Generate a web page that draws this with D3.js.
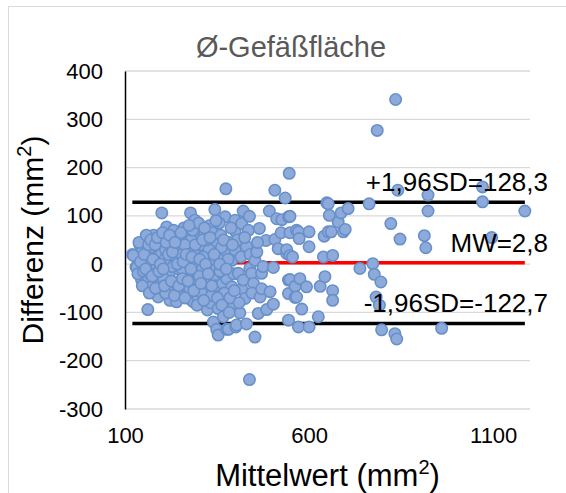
<!DOCTYPE html>
<html>
<head>
<meta charset="utf-8">
<script src="https://cdn.jsdelivr.net/npm/d3@7"></script>
<style>
  body { margin: 0; background: #fff; }
  svg { display: block; font-family: "Liberation Sans", Arial, sans-serif; }
</style>
</head>
<body>
<div id="app"></div>
<script>
// Mittelwert (mm²) of each pair
const mittelwert = [
  120, 123, 130, 132, 145, 140, 148, 150, 135, 150,
  154, 160, 163, 162, 172, 165, 170, 175, 180, 185, 190, 195, 190, 178, 185, 198, 200, 160, 168,
  200, 213, 205, 210, 215, 220, 222, 225, 230, 235, 240, 238, 245, 248, 205, 215, 228, 232, 250, 250, 210, 244, 208,
  255, 260, 265, 270, 275, 278, 281, 286, 290, 285, 295, 298, 260, 268, 272, 280, 292, 299, 255, 288, 262, 276, 294, 284,
  305, 310, 315, 320, 324, 325, 330, 335, 340, 340, 344, 345, 300, 308, 318, 328, 332, 338, 348, 312, 335, 302, 322, 346, 316,
  349, 353, 353, 355, 360, 365, 367, 372, 372, 374, 376, 376, 381, 385, 390, 390, 394, 399, 399, 399, 358, 362, 370, 380, 385, 395, 388, 356,
  401, 403, 408, 412, 417, 417, 421, 421, 426, 430, 430, 435, 438, 438, 439, 444, 449, 405, 415, 425, 440, 410, 445,
  453, 453, 458, 462, 465, 467, 471, 471, 483, 485, 492, 494, 460, 475,
  503, 503, 507, 507, 512, 516, 524, 526, 535, 539, 539, 544, 544, 544, 544, 546, 548, 548, 548, 548,
  555, 562, 562, 566, 566, 571, 571, 573, 575, 580, 593, 600, 600, 600,
  625, 630, 639, 641, 643, 648, 652, 652, 655, 660, 664, 664, 664, 679, 687, 693, 698, 706,
  738, 763, 773, 777, 795, 782, 791, 797, 785, 835, 822, 833, 838, 841, 847, 913, 917, 923, 923, 960,
  1071, 1071, 1096, 1186,
  138, 142, 147, 152, 156, 158, 164, 166, 170, 174, 176, 182, 183, 188, 192, 196, 202, 204, 207, 212,
  218, 221, 226, 229, 234, 236, 242, 246, 252, 256, 258, 263, 266, 271, 274, 279, 282, 287, 291, 296,
  303, 306, 311, 314, 319, 326, 331, 336, 342, 347, 351, 357, 363, 368, 375, 383, 392, 397
];

// Differenz (mm²) of each pair
const differenz = [
  20, 18, -6, -7, -33, 40, 30, 10, -20, -15,
  43, 48, -33, -94, -47, 25, 0, 35, -15, 15, -68, 45, -30, 60, -5, 20, -40, 5, -20,
  106, 77, 55, 30, 5, -20, -75, 40, -50, 15, -78, 60, -10, 30, -30, -55, -5, 70, 45, -35, -60, -60, 10,
  20, -45, 55, 0, 35, 106, -75, -78, 91, -20, 10, 65, 75, -25, -60, 50, -40, -71, -10, 25, 40, -50, -5, 70,
  40, -10, 60, 20, -95, -55, 80, 5, -120, -30, 113, 45, 85, -60, -35, 30, -80, 65, -10, 15, -65, -25, 50, -45, 75,
  -135, -147, -92, 20, 60, -40, -109, 98, 29, 156, -30, -135, -135, 45, 8, -47, -82, 91, 69, 29, -15, 35, -60, 10, -70, -20, 75, 85,
  -130, -126, -19, -101, 84, -51, 110, -33, -71, 37, -124, 70, 99, -239, -9, -19, -40, 50, 15, 55, 20, -80, -60,
  -151, 8, 25, -102, 74, -68, -19, -51, 49, -94, 110, -57, 45, -5,
  -7, -83, 153, 51, 94, 32, 65, 92, 137, 22, 30, 98, -33, -61, -116, 188, 18, 99, 65, -32,
  15, -46, -69, 70, -68, 67, -130, 53, -30, -93, -47, 67, 36, -130,
  -109, -46, 15, 58, -26, 127, 125, 67, 101, 67, 18, -55, -75, 87, 106, 67, 72, 115,
  -9, 125, 1, -21, -37, -68, -85, -136, 277, 341, 84, -144, -155, 153, 52, 59, 34, 143, 110, -133,
  160, 129, 55, 110,
  45, 5, -45, 20, -10, 60, 40, -60, 50, -25, 10, 40, -50, 55, -15, 0, 65, -10, -45, 45,
  20, 60, -35, 25, -65, 45, 0, -45, 65, -30, 5, -70, 20, -35, 80, -10, 15, -55, 40, -85,
  10, -40, 50, -75, 0, -20, 55, -45, 20, 90, -70, 0, -85, 50, -10, -100, 40, -55
];

const mwWert = 2.8;
const sdOben = 128.3;
const sdUnten = -122.7;

const xTicks = [100, 600, 1100];
const yTicks = [-300, -200, -100, 0, 100, 200, 300, 400];

const w = 566;
const h = 493;
const margin = { top: 71, right: 36, bottom: 84, left: 125 };

const data = mittelwert.map((m, i) => ({ m: m, d: differenz[i] }));

const xScale = d3.scaleLinear().domain([100, 1200]).range([margin.left, w - margin.right]);
const yScale = d3.scaleLinear().domain([-300, 400]).range([h - margin.bottom, margin.top]);

const svg = d3.select("#app").append("svg").attr("width", w).attr("height", h);

// chart border
svg.append("rect")
  .attr("x", 8.5).attr("y", 6.5)
  .attr("width", 600).attr("height", 600)
  .attr("fill", "none").attr("stroke", "#d9d9d9");

// gridlines
svg.append("g")
  .selectAll("line")
  .data(yTicks)
  .join("line")
  .attr("x1", margin.left).attr("x2", w - margin.right)
  .attr("y1", (d) => yScale(d)).attr("y2", (d) => yScale(d))
  .attr("stroke", "#d9d9d9").attr("stroke-width", 1.3);

// y axis
const yAxis = svg.append("g")
  .attr("transform", `translate(${margin.left},0)`)
  .call(d3.axisLeft(yScale).tickValues(yTicks).tickFormat((d) => String(d))
    .tickSize(0).tickSizeOuter(0).tickPadding(22));
yAxis.select(".domain").attr("stroke", "#000").attr("stroke-width", 1.5);
yAxis.selectAll("text").attr("font-size", 22).attr("font-family", "Liberation Sans, Arial").attr("fill", "#000");

// x axis
const xAxis = svg.append("g")
  .attr("transform", `translate(0,${h - margin.bottom})`)
  .call(d3.axisBottom(xScale).tickValues(xTicks).tickFormat((d) => String(d))
    .tickSize(0).tickPadding(18));
xAxis.select(".domain").remove();
xAxis.selectAll("text").attr("font-size", 22).attr("font-family", "Liberation Sans, Arial").attr("fill", "#000");

// limit lines
const [mMin, mMax] = d3.extent(mittelwert);
const lines = [
  { v: sdOben, c: "#000" },
  { v: sdUnten, c: "#000" },
  { v: mwWert, c: "#ff0000" }
];
svg.append("g")
  .selectAll("line")
  .data(lines)
  .join("line")
  .attr("x1", xScale(mMin)).attr("x2", xScale(mMax))
  .attr("y1", (d) => yScale(d.v)).attr("y2", (d) => yScale(d.v))
  .attr("stroke", (d) => d.c).attr("stroke-width", 3.5);

// points
svg.append("g")
  .selectAll("circle")
  .data(data)
  .join("circle")
  .attr("cx", (d) => xScale(d.m))
  .attr("cy", (d) => yScale(d.d))
  .attr("r", 5.7)
  .attr("fill", "#8eaadb")
  .attr("stroke", "#6790ca")
  .attr("stroke-width", 1.6);

// line labels
const fmt = (v) => String(v).replace(".", ",");
const labels = [
  { v: sdOben, t: "+1,96SD=" + fmt(sdOben) },
  { v: mwWert, t: "MW=" + fmt(mwWert) },
  { v: sdUnten, t: "-1,96SD=" + fmt(sdUnten) }
];
svg.append("g")
  .selectAll("text")
  .data(labels)
  .join("text")
  .attr("x", 548)
  .attr("y", (d) => yScale(d.v) - 11)
  .attr("text-anchor", "end")
  .attr("font-size", 26)
  .attr("fill", "#000")
  .text((d) => d.t);

// title
svg.append("text")
  .attr("x", 291).attr("y", 57)
  .attr("text-anchor", "middle")
  .attr("font-size", 29)
  .attr("fill", "#595959")
  .text("Ø-Gefäßfläche");

// x title
const xt = svg.append("text")
  .attr("x", (margin.left + w - margin.right) / 2).attr("y", 486)
  .attr("text-anchor", "middle")
  .attr("font-size", 31)
  .attr("fill", "#000");
xt.append("tspan").text("Mittelwert (mm");
xt.append("tspan").attr("font-size", 20).attr("dy", -12).text("2");
xt.append("tspan").attr("dy", 12).text(")");

// y title
const yt = svg.append("text")
  .attr("transform", `translate(43,${(margin.top + h - margin.bottom) / 2}) rotate(-90)`)
  .attr("text-anchor", "middle")
  .attr("font-size", 30)
  .attr("fill", "#000");
yt.append("tspan").text("Differenz (mm");
yt.append("tspan").attr("font-size", 20).attr("dy", -12).text("2");
yt.append("tspan").attr("dy", 12).text(")");
</script>
</body>
</html>
